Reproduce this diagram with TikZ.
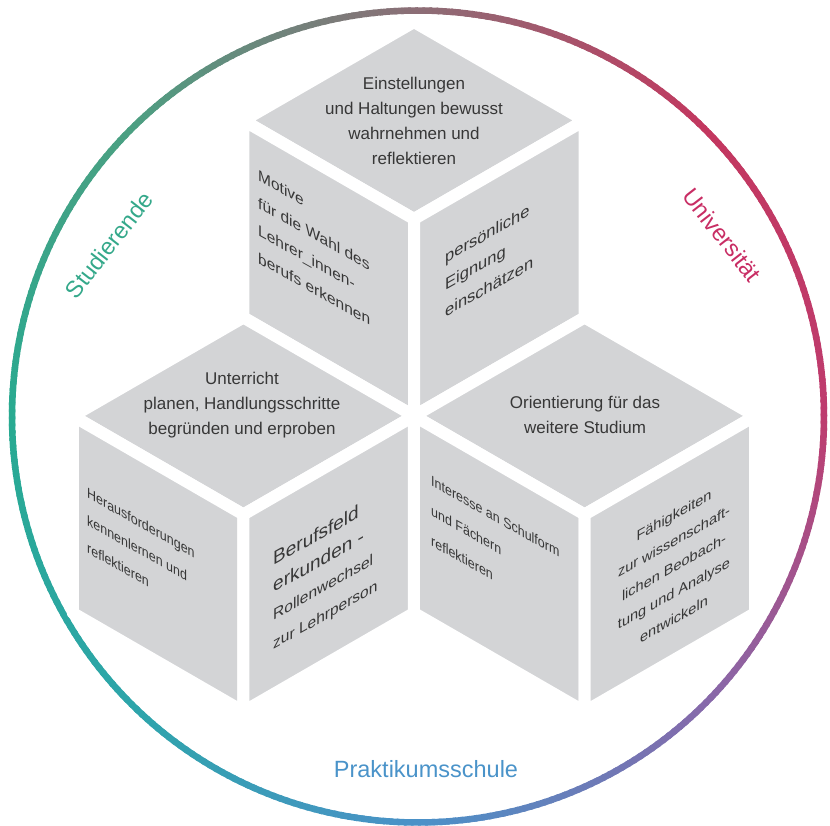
\documentclass[tikz,border=0pt]{standalone}
\usepackage{fontspec}
\setmainfont{Liberation Sans}
\newfontfamily\narrowfont[FakeStretch=0.86]{Liberation Sans}
\usetikzlibrary{positioning}
\definecolor{facegray}{RGB}{211,212,214}
\definecolor{textgray}{RGB}{55,55,55}
\definecolor{studgreen}{RGB}{52,168,138}
\definecolor{unired}{RGB}{200,45,100}
\definecolor{schoolblue}{RGB}{74,147,201}
% ring colours, every 45 degrees
\definecolor{ringa}{RGB}{190,60,110}
\definecolor{ringb}{RGB}{195,55,95}
\definecolor{ringc}{RGB}{140,110,118}
\definecolor{ringd}{RGB}{75,160,130}
\definecolor{ringe}{RGB}{40,170,145}
\definecolor{ringf}{RGB}{45,165,170}
\definecolor{ringg}{RGB}{75,145,200}
\definecolor{ringh}{RGB}{135,105,170}
\tikzset{
  face/.style = {fill=facegray, draw=white, line width=12pt, line join=round},
  ringseg/.style = {line width=6.5pt},
  toptext/.style = {text=textgray, align=center, inner sep=0, font=\fontsize{17}{25}\selectfont},
  lefttext/.style = {text=textgray, align=left, inner sep=0, anchor=north west, yslant=-0.56,
    font=\fontsize{16}{27}\selectfont},
  righttext/.style = {text=textgray, align=left, inner sep=0, anchor=north west, yslant=0.56,
    font=\fontsize{16}{27}\selectfont},
  ringlabel/.style = {inner sep=0, font=\fontsize{23.5}{28}\selectfont}
}

\begin{document}
\begin{tikzpicture}[x=1pt, y=1pt]
  \useasboundingbox (0, 0) rectangle (830, 825);

  % gradient ring
  \begin{scope}[shift={(418, 408.5)}]
    \foreach \i/\ca/\cb in {0/ringa/ringb, 1/ringb/ringc, 2/ringc/ringd, 3/ringd/ringe,
                            4/ringe/ringf, 5/ringf/ringg, 6/ringg/ringh, 7/ringh/ringa} {
      \foreach \t in {0,...,44} {
        \pgfmathtruncatemacro\pc{100 - \t*100/45}
        \pgfmathsetmacro\a{\i*45 + \t}
        \draw [ringseg, color=\ca!\pc!\cb] (\a:406) arc [start angle=\a, end angle=\a+1.4, radius=406];
      }
    }
  \end{scope}

  % top cube
  \begin{scope}[shift={(414, 606)}]
    \draw [face] (0, 0) -- (150:197) -- (90:197) -- (30:197) -- cycle;
    \draw [face] (0, 0) -- (150:197) -- (210:197) -- (270:197) -- cycle;
    \draw [face] (0, 0) -- (30:197) -- (-30:197) -- (270:197) -- cycle;
  \end{scope}

  % lower left cube
  \begin{scope}[shift={(243.4, 310.5)}]
    \draw [face] (0, 0) -- (150:197) -- (90:197) -- (30:197) -- cycle;
    \draw [face] (0, 0) -- (150:197) -- (210:197) -- (270:197) -- cycle;
    \draw [face] (0, 0) -- (30:197) -- (-30:197) -- (270:197) -- cycle;
  \end{scope}

  % lower right cube
  \begin{scope}[shift={(584.6, 310.5)}]
    \draw [face] (0, 0) -- (150:197) -- (90:197) -- (30:197) -- cycle;
    \draw [face] (0, 0) -- (150:197) -- (210:197) -- (270:197) -- cycle;
    \draw [face] (0, 0) -- (30:197) -- (-30:197) -- (270:197) -- cycle;
  \end{scope}

  % top faces
  \node [toptext] (einst) at (414, 704.5) {Einstellungen\\und Haltungen bewusst\\wahrnehmen und\\reflektieren};
  \node [toptext] (unterr) at (242, 420) {Unterricht\\planen, Handlungsschritte\\begründen und erproben};
  \node [toptext] (orient) at (585, 410.5) {Orientierung für das\\weitere Studium};

  % side faces
  \node [lefttext, font=\fontsize{15.5}{27.5}\selectfont] (motive) at (258, 656)
    {Motive\\für die Wahl des\\Lehrer\_innen-\\berufs erkennen};
  \node [righttext, font=\fontsize{16.5}{27}\selectfont] (eignung) at (445, 574)
    {persönliche\\Eignung\\einschätzen};
  \node [lefttext, font=\narrowfont\fontsize{14.5}{27.5}\selectfont] (heraus) at (87, 338)
    {Herausforderungen\\kennenlernen und\\reflektieren};
  \node [righttext, font=\fontsize{19}{27}\selectfont] (berufsfeld) at (273, 273)
    {Berufsfeld\\erkunden -};
  \node [righttext, font=\fontsize{15.5}{29}\selectfont] (rollen) at (273, 216)
    {Rollenwechsel\\zur Lehrperson};
  \node [lefttext, font=\narrowfont\fontsize{14.5}{30}\selectfont] (interesse) at (431, 350)
    {Interesse an Schulform\\und Fächern\\reflektieren};
  \node [righttext, anchor=center, align=center, font=\fontsize{14.5}{26}\selectfont] (faehig) at (674, 258)
    {Fähigkeiten\\zur wissenschaft-\\lichen Beobach-\\tung und Analyse\\entwickeln};

  % ring labels
  \node [ringlabel, text=studgreen, rotate=52] (stud) at (109, 580) {Studierende};
  \node [ringlabel, text=unired, rotate=-52] (uni) at (722, 590) {Universität};
  \node [ringlabel, text=schoolblue] (prakt) at (426, 56) {Praktikumsschule};
\end{tikzpicture}
\end{document}
